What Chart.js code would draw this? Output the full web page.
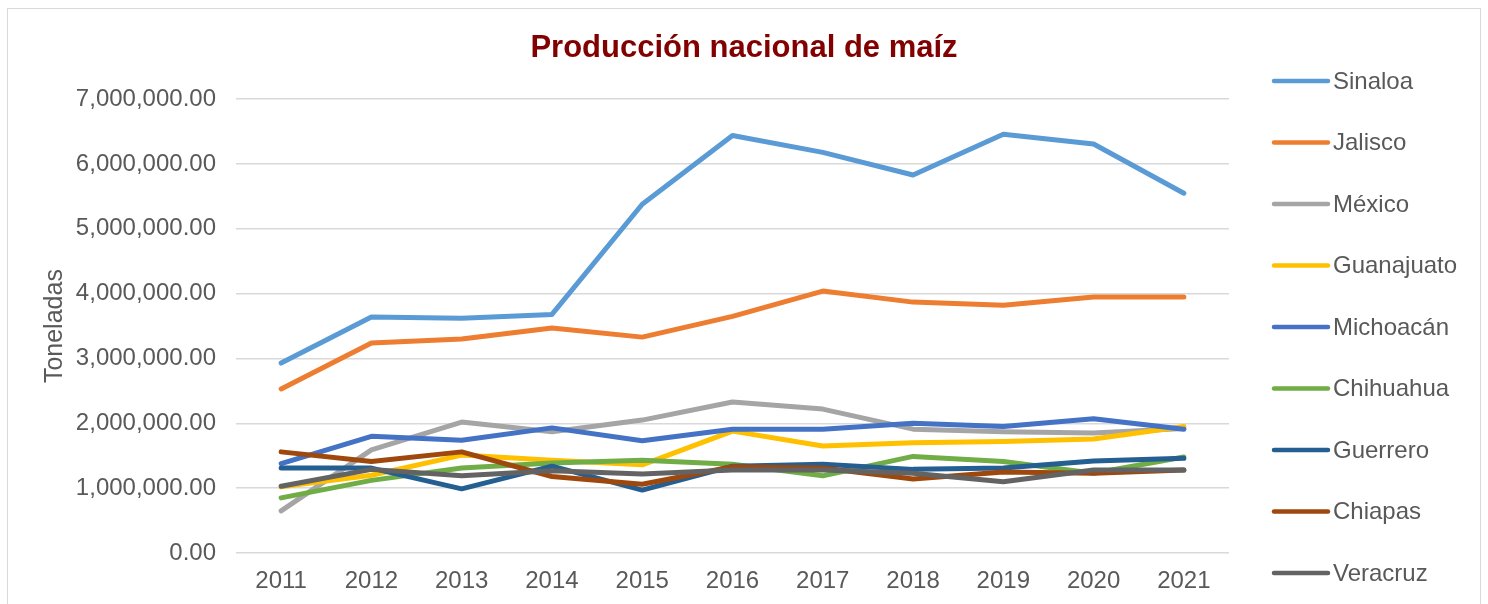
<!DOCTYPE html>
<html>
<head>
<meta charset="utf-8">
<script src="https://cdn.jsdelivr.net/npm/chart.js@4"></script>
<style>
  html, body { margin: 0; padding: 0; background: #fff; overflow: hidden; }
  #frame { position: absolute; left: 7px; top: 8px; width: 1472px; height: 610px; border: 1px solid #d9d9d9; overflow: hidden; }
  #chart { display: block; }
</style>
</head>
<body>
<div id="frame"><canvas id="chart" width="1472" height="600"></canvas></div>
<script>
// Producción nacional de maíz (toneladas)
const years = ["2011", "2012", "2013", "2014", "2015", "2016", "2017", "2018", "2019", "2020", "2021"];
const states = ["Sinaloa", "Jalisco", "México", "Guanajuato", "Michoacán", "Chihuahua", "Guerrero", "Chiapas", "Veracruz"];
const colors = ["#5B9BD5", "#ED7D31", "#A5A5A5", "#FFC000", "#4472C4", "#70AD47", "#255E91", "#9E480E", "#636363"];

const sinaloa    = [2930000, 3640000, 3620000, 3680000, 5380000, 6440000, 6180000, 5830000, 6460000, 6310000, 5550000];
const jalisco    = [2530000, 3240000, 3300000, 3470000, 3330000, 3650000, 4040000, 3870000, 3820000, 3950000, 3950000];
const mexico     = [650000, 1590000, 2020000, 1870000, 2050000, 2330000, 2220000, 1910000, 1870000, 1850000, 1920000];
const guanajuato = [1020000, 1200000, 1510000, 1430000, 1360000, 1880000, 1650000, 1700000, 1720000, 1760000, 1950000];
const michoacan  = [1380000, 1800000, 1740000, 1930000, 1730000, 1910000, 1910000, 2000000, 1950000, 2070000, 1910000];
const chihuahua  = [850000, 1120000, 1310000, 1390000, 1430000, 1370000, 1190000, 1490000, 1410000, 1230000, 1480000];
const guerrero   = [1310000, 1310000, 990000, 1340000, 970000, 1340000, 1370000, 1290000, 1310000, 1420000, 1460000];
const chiapas    = [1560000, 1410000, 1560000, 1180000, 1060000, 1330000, 1310000, 1140000, 1250000, 1230000, 1280000];
const veracruz   = [1030000, 1290000, 1190000, 1270000, 1220000, 1280000, 1280000, 1230000, 1100000, 1280000, 1280000];

const series = [sinaloa, jalisco, mexico, guanajuato, michoacan, chihuahua, guerrero, chiapas, veracruz];

const textColor = "#595959";
const fontFamily = "'Liberation Sans', Arial, sans-serif";

// legend on the right, drawn by hand so spacing matches the Excel look
const sideLegend = {
    id: "sideLegend",
    afterDraw(chart) {
        const c = chart.ctx;
        c.save();
        chart.data.datasets.forEach((ds, i) => {
            const y = 72 + i * 61.5;
            c.strokeStyle = ds.borderColor;
            c.lineWidth = 4.5;
            c.lineCap = "round";
            c.beginPath();
            c.moveTo(1266, y);
            c.lineTo(1320, y);
            c.stroke();
            c.fillStyle = textColor;
            c.font = "24px " + fontFamily;
            c.textBaseline = "middle";
            c.textAlign = "left";
            c.fillText(ds.label, 1325, y + 1);
        });
        c.restore();
    }
};

const ctx = document.getElementById("chart").getContext("2d");
const chart = new Chart(ctx, {
    type: "line",
    data: {
        labels: years,
        datasets: states.map((name, i) => ({
            label: name,
            data: series[i],
            borderColor: colors[i],
            backgroundColor: colors[i],
            borderWidth: 5,
            borderCapStyle: "round",
            borderJoinStyle: "round",
            pointRadius: 0,
            tension: 0,
            fill: false,
            order: -i
        }))
    },
    options: {
        responsive: false,
        animation: false,
        layout: { padding: { left: 0, right: 0, top: 0, bottom: 16 } },
        plugins: {
            legend: { display: false },
            tooltip: { enabled: false },
            title: {
                display: true,
                text: "Producción nacional de maíz",
                color: "#820000",
                font: { family: fontFamily, size: 31, weight: "bold" },
                padding: { top: 21, bottom: 32 }
            }
        },
        scales: {
            x: {
                offset: true,
                grid: { display: false, drawTicks: false },
                border: { display: false },
                ticks: { color: textColor, font: { family: fontFamily, size: 24 }, padding: 14, maxRotation: 0 },
                afterFit: (s) => { s.height = 40; }
            },
            y: {
                min: 0,
                max: 7000000,
                border: { display: false },
                grid: { color: "#d9d9d9", lineWidth: 1.5, drawTicks: false },
                title: {
                    display: true,
                    text: "Toneladas",
                    color: textColor,
                    font: { family: fontFamily, size: 25 },
                    padding: { top: 32, bottom: 0 }
                },
                ticks: {
                    stepSize: 1000000,
                    color: textColor,
                    font: { family: fontFamily, size: 24 },
                    padding: 20,
                    callback: (v) => Number(v).toLocaleString("en-US", { minimumFractionDigits: 2, maximumFractionDigits: 2 })
                },
                afterFit: (s) => { s.width = 228; }
            },
            // empty right axis that reserves the room taken by the legend
            side: {
                type: "linear",
                position: "right",
                grid: { display: false, drawTicks: false },
                border: { display: false },
                ticks: { display: false },
                afterFit: (s) => { s.width = 251; }
            }
        }
    },
    plugins: [sideLegend]
});
</script>
</body>
</html>
